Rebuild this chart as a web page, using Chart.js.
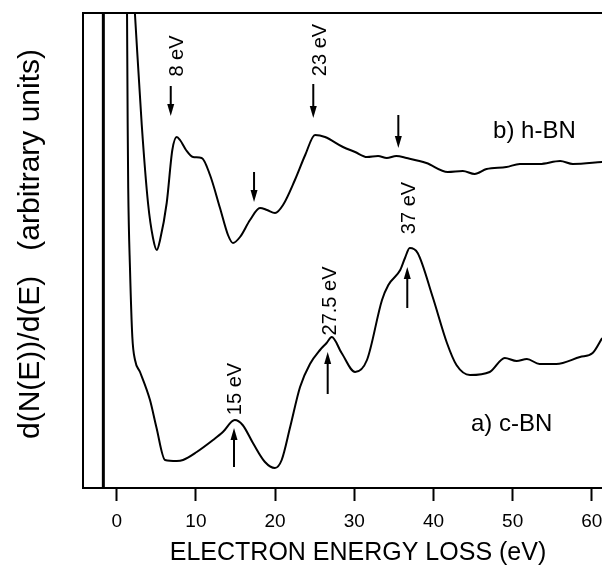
<!DOCTYPE html>
<html>
<head>
<meta charset="utf-8">
<script src="https://cdn.jsdelivr.net/npm/chart.js@4.4.0/dist/chart.umd.min.js"></script>
<style>
  html, body { margin: 0; padding: 0; background: #fff; }
  #wrap { width: 602px; height: 568px; }
</style>
</head>
<body>
<div id="wrap"><canvas id="eelsChart" width="602" height="568"></canvas></div>
<script>
// --- data (energy in eV, signal in arbitrary units) ---
const hbnEnergy = [2.3, 3.16, 3.95, 4.58, 5.06, 5.47, 6.31, 7.02, 7.58, 7.99, 8.75, 9.63, 10.73, 11.78, 13.04, 14.05, 14.68, 15.57, 16.83, 18.09, 18.98, 19.99, 21.0, 22.5, 23.8, 25.04, 26.3, 28.57, 30.1, 31.6, 33.0, 34.1, 35.3, 36.6, 39.1, 41.8, 43.7, 45.2, 46.7, 49.2, 50.9, 53.4, 56.0, 57.6, 61.3];
const hbnSignal = [474, 363, 285, 250, 238, 248, 285, 338, 351, 348, 338, 331, 330, 313, 280, 253, 245, 251, 268, 280, 278, 275, 283, 308, 333, 353, 351, 341, 336, 331, 332, 330, 332, 330, 325, 316, 317, 314, 319, 321, 324, 324, 327, 324, 326];

const cbnEnergy = [1.30, 1.38, 1.45, 1.68, 1.97, 2.31, 2.94, 4.2, 5.0, 6.1, 7.58, 8.37, 10.1, 12.16, 13.4, 14.9, 15.9, 17.2, 18.72, 19.97, 20.83, 21.9, 23.15, 24.4, 25.67, 26.5, 27.15, 28.4, 30.1, 31.6, 33.5, 34.3, 35.8, 36.4, 37.0, 38.0, 39.9, 41.7, 42.9, 44.6, 47.1, 49.0, 50.5, 51.8, 53.4, 55.5, 58.5, 60.1, 61.3];
const cbnSignal = [476, 365, 300, 218, 151, 128, 116, 88, 61, 28, 27, 28, 36, 48, 56, 68, 63, 45, 26, 20, 28, 61, 101, 124, 138, 145, 151, 135, 116, 128, 188, 203, 218, 230, 240, 235, 191, 145, 123, 113, 116, 130, 127, 129, 124, 124, 131, 135, 150];

const zeroLineEnergy = [-1.69, -1.69];
const zeroLineSignal = [0, 475];

const tickValues = [0, 10, 20, 30, 40, 50, 60];

const arrowEnergy = [6.82, 17.34, 24.82, 35.56, 14.81, 26.64, 36.69];
const arrowTail = [402, 316, 404, 373, 21, 94, 180];
const arrowTip = [372, 286, 370, 340, 60, 136, 221];

const peakLabels = ['8 eV', '23 eV', '15 eV', '27.5 eV', '37 eV'];
const peakLabelEnergy = [7.68, 25.67, 15.04, 26.93, 37.03];
const peakLabelSignal = [432, 438, 99, 187, 280];

const sampleLabels = ['b) h-BN', 'a) c-BN'];
const sampleLabelEnergy = [52.75, 49.87];
const sampleLabelSignal = [357, 64];

const xTitle = 'ELECTRON ENERGY LOSS (eV)';
const yTitle = 'd(N(E))/d(E)   (arbitrary units)';

const FONT = '"Liberation Sans", Arial, sans-serif';
const toPoints = (xs, ys) => xs.map((x, i) => ({ x: x, y: ys[i] }));

// arrows, text annotations and axis titles
const annotations = {
    id: 'annotations',
    afterDatasetsDraw(chart) {
        const { ctx, chartArea, scales: { x, y } } = chart;
        ctx.save();
        ctx.strokeStyle = '#000';
        ctx.fillStyle = '#000';
        ctx.lineWidth = 2;

        arrowEnergy.forEach((e, i) => {
            const px = x.getPixelForValue(e);
            const y0 = y.getPixelForValue(arrowTail[i]);
            const y1 = y.getPixelForValue(arrowTip[i]);
            const dir = y1 > y0 ? 1 : -1;
            const head = 12;
            ctx.beginPath();
            ctx.moveTo(px, y0);
            ctx.lineTo(px, y1 - dir * head);
            ctx.stroke();
            ctx.beginPath();
            ctx.moveTo(px, y1);
            ctx.lineTo(px - 3.5, y1 - dir * head);
            ctx.lineTo(px + 3.5, y1 - dir * head);
            ctx.closePath();
            ctx.fill();
        });

        ctx.textAlign = 'center';
        ctx.textBaseline = 'middle';
        ctx.font = '20px ' + FONT;
        peakLabels.forEach((t, i) => {
            ctx.save();
            ctx.translate(x.getPixelForValue(peakLabelEnergy[i]), y.getPixelForValue(peakLabelSignal[i]));
            ctx.rotate(-Math.PI / 2);
            ctx.fillText(t, 0, 0);
            ctx.restore();
        });

        ctx.font = '24px ' + FONT;
        sampleLabels.forEach((t, i) => {
            ctx.fillText(t, x.getPixelForValue(sampleLabelEnergy[i]), y.getPixelForValue(sampleLabelSignal[i]));
        });

        // axis titles (the original is not centred on the plot box)
        ctx.font = '25px ' + FONT;
        ctx.fillText(xTitle, 358, chartArea.bottom + 65);

        ctx.save();
        ctx.font = '30px ' + FONT;
        ctx.translate(31, chartArea.top + 231);
        ctx.rotate(-Math.PI / 2);
        ctx.fillText(yTitle, 0, 0);
        ctx.restore();

        ctx.restore();
    }
};

const lineStyle = {
    borderColor: '#000',
    borderWidth: 2,
    pointRadius: 0,
    fill: false,
    cubicInterpolationMode: 'monotone'
};

new Chart(document.getElementById('eelsChart'), {
    type: 'line',
    data: {
        datasets: [
            { label: 'h-BN', data: toPoints(hbnEnergy, hbnSignal), ...lineStyle },
            { label: 'c-BN', data: toPoints(cbnEnergy, cbnSignal), ...lineStyle },
            { label: 'zero', data: toPoints(zeroLineEnergy, zeroLineSignal), ...lineStyle, borderWidth: 3 }
        ]
    },
    options: {
        responsive: false,
        animation: false,
        devicePixelRatio: 1,
        layout: { padding: 0 },
        plugins: { legend: { display: false }, tooltip: { enabled: false } },
        scales: {
            x: {
                type: 'linear',
                position: 'bottom',
                min: -4.26,
                max: 61.28,
                afterFit: s => { s.height = 80; s.paddingLeft = 0; s.paddingRight = 0; },
                afterBuildTicks: s => { s.ticks = tickValues.map(v => ({ value: v })); },
                ticks: {
                    autoSkip: false,
                    maxRotation: 0,
                    padding: 9,
                    color: '#000',
                    font: { family: FONT, size: 19 }
                },
                grid: { drawOnChartArea: false, drawTicks: true, tickLength: 13, tickWidth: 2, tickColor: '#000' },
                border: { display: true, color: '#000', width: 2 }
            },
            xTop: {
                type: 'linear',
                axis: 'x',
                position: 'top',
                min: -4.26,
                max: 61.28,
                afterFit: s => { s.height = 13; s.paddingLeft = 0; s.paddingRight = 0; },
                ticks: { display: false },
                grid: { display: false },
                border: { display: true, color: '#000', width: 2 }
            },
            y: {
                type: 'linear',
                position: 'left',
                min: 0,
                max: 475,
                afterFit: s => { s.width = 83; },
                ticks: { display: false },
                grid: { display: false },
                border: { display: true, color: '#000', width: 2 }
            }
        }
    },
    plugins: [annotations]
});
</script>
</body>
</html>
